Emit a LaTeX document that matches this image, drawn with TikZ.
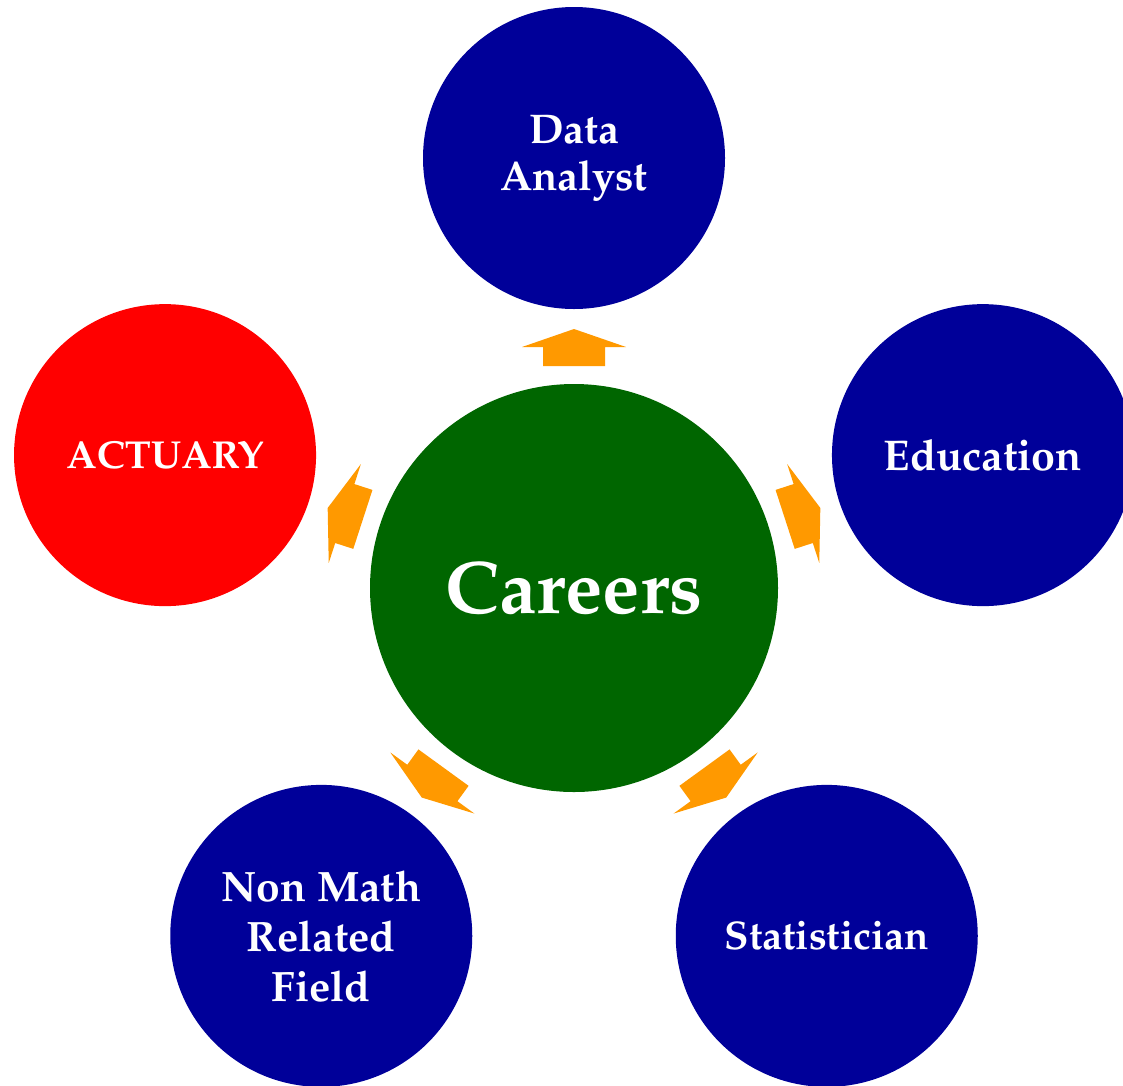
\documentclass[tikz,border=0pt]{standalone}
\usepackage[T1]{fontenc}
\usepackage{mathpazo}
\usetikzlibrary{calc}
\newcommand{\labelsize}[1]{\fontsize{#1}{50}\selectfont\bfseries}
\begin{document}
\begin{tikzpicture}[x=1pt,y=1pt,
  bubble/.style={circle, minimum size=302pt, inner sep=0pt, text=white,
    align=center, font=\labelsize{41.5}},
  hub/.style={circle, minimum size=408pt, inner sep=0pt, fill=hubgreen,
    text=white, font=\fontsize{74.5}{80}\selectfont\bfseries},
  spoke/.pic={\fill[spokeorange] (222,-31) -- (241,-31) -- (241,-52) -- (259,0)
    -- (241,52) -- (241,31) -- (222,31) -- cycle;}]
\definecolor{hubgreen}{RGB}{0,102,0}
\definecolor{careerblue}{RGB}{0,0,153}
\definecolor{spokeorange}{RGB}{255,153,0}
\useasboundingbox (0,0) rectangle (1123,-1085);
\clip (0,0) rectangle (1123,-1085);

% central hub
\node[hub] (c) at (574,-588) {Careers};

% career bubbles on a regular pentagon around the hub
\node[bubble, fill=careerblue, font=\fontsize{41.5}{47}\selectfont\bfseries]
  (da) at ($(c)+(90:430)$) {Data\\Analyst};
\node[bubble, fill=red, font=\labelsize{39}] (ac) at ($(c)+(162:430)$) {ACTUARY};
\node[bubble, fill=careerblue, font=\labelsize{42.5}]
  (nm) at ($(c)+(234:430)$) {Non Math\\Related\\Field};
\node[bubble, fill=careerblue, font=\labelsize{40}] (st) at ($(c)+(306:430)$) {Statistician};
\node[bubble, fill=careerblue, font=\labelsize{43}] (ed) at ($(c)+(18:430)$) {Education};

% outward block arrows from the hub
\foreach \a in {90,162,234,306,18}
  \pic[rotate=\a] at (c.center) {spoke};
\end{tikzpicture}
\end{document}
